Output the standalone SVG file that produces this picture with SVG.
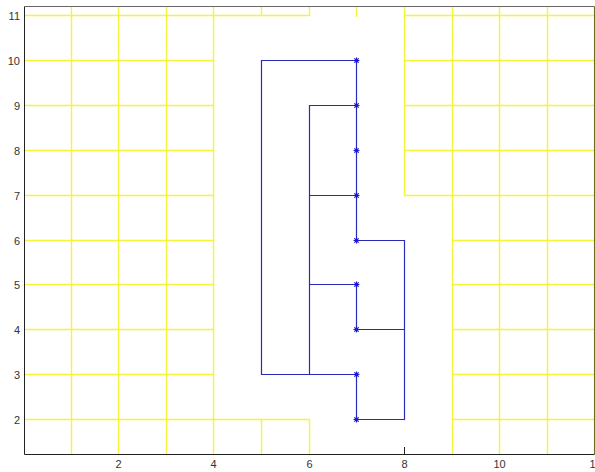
<svg xmlns="http://www.w3.org/2000/svg" xmlns:xlink="http://www.w3.org/1999/xlink" width="595" height="472" viewBox="0 0 595 472">
<style>
.grid{stroke:#f4f43a;stroke-width:1.4;fill:none}
.axis{stroke:#222;stroke-width:1;fill:none}
.tick{stroke:#222;stroke-width:1}
.lab{font-family:"Liberation Sans",Arial,sans-serif;font-size:11px;fill:#333}
.ylab{text-anchor:end}
.xlab{text-anchor:middle}
.den{stroke:#2a2ab8;stroke-width:1.2;fill:none}
</style>
<defs>
<path id="star" d="M-3,0H3M0,-3V3M-2.2,-2.2L2.2,2.2M-2.2,2.2L2.2,-2.2" stroke="#1a1ad0" stroke-width="1.2" fill="none"/>
</defs>
<rect width="595" height="472" fill="#fff"/>
<g id="ticks">
<path class="tick" d="M118.5,454.5V447M213.5,454.5V447M309.5,454.5V447M404.5,454.5V447M499.5,454.5V447"/>
</g>
<g id="grid" class="grid">
<path d="M71.5,6.5V454.5M118.5,6.5V454.5M166.5,6.5V454.5M213.5,6.5V454.5"/>
<path d="M24.5,15.5H213.5M24.5,60.5H213.5M24.5,105.5H213.5M24.5,150.5H213.5M24.5,195.5H213.5M24.5,240.5H213.5M24.5,284.5H213.5M24.5,329.5H213.5M24.5,374.5H213.5M24.5,419.5H213.5"/>
<path d="M213.5,15.5H309.5V6.5M261.5,6.5V15.5M356.5,6.5V17"/>
<path d="M213.5,419.5H309.5V454.5M261.5,419.5V454.5"/>
<path d="M404.5,6.5V195.5H594.5M452.5,6.5V454.5M499.5,6.5V454.5M547.5,6.5V454.5M594.5,6.5V454.5"/>
<path d="M404.5,15.5H594.5M404.5,60.5H594.5M404.5,105.5H594.5M404.5,150.5H594.5"/>
<path d="M452.5,240.5H594.5M452.5,284.5H594.5M452.5,329.5H594.5M452.5,374.5H594.5M452.5,419.5H594.5"/>
</g>
<g id="axes">
<path class="axis" d="M24.5,6.5V454.5H594.5" />
<path d="M24.5,6.5H594.5" stroke="#666" stroke-width="1.2" fill="none"/>
<path d="M594.5,6.5V454.5" stroke="#6b6b20" stroke-width="1" fill="none"/>
</g>
<g id="labels" class="lab">
<text class="ylab" x="20" y="19.5">11</text>
<text class="ylab" x="20" y="64.5">10</text>
<text class="ylab" x="20" y="109.5">9</text>
<text class="ylab" x="20" y="154.5">8</text>
<text class="ylab" x="20" y="199.5">7</text>
<text class="ylab" x="20" y="244.5">6</text>
<text class="ylab" x="20" y="288.5">5</text>
<text class="ylab" x="20" y="333.5">4</text>
<text class="ylab" x="20" y="378.5">3</text>
<text class="ylab" x="20" y="423.5">2</text>
<text class="xlab" x="118.5" y="467.5">2</text>
<text class="xlab" x="213.5" y="467.5">4</text>
<text class="xlab" x="309.5" y="467.5">6</text>
<text class="xlab" x="404.5" y="467.5">8</text>
<text class="xlab" x="499.5" y="467.5">10</text>
<text class="xlab" x="595.5" y="467.5">12</text>
</g>
<g id="connectors" class="den">
<path d="M356.5,60.5H261.5V374.5H356.5"/>
<path d="M356.5,105.5H309.5V374.5"/>
<path d="M309.5,195.5H356.5"/>
<path d="M309.5,284.5H356.5"/>
<path d="M356.5,60.5V240.5H404.5V419.5H356.5V374.5"/>
<path d="M356.5,284.5V329.5H404.5"/>
</g>
<g id="node-10"><use xlink:href="#star" x="356.5" y="60.5"/></g>
<g id="node-9"><use xlink:href="#star" x="356.5" y="105.5"/></g>
<g id="node-8"><use xlink:href="#star" x="356.5" y="150.5"/></g>
<g id="node-7"><use xlink:href="#star" x="356.5" y="195.5"/></g>
<g id="node-6"><use xlink:href="#star" x="356.5" y="240.5"/></g>
<g id="node-5"><use xlink:href="#star" x="356.5" y="284.5"/></g>
<g id="node-4"><use xlink:href="#star" x="356.5" y="329.5"/></g>
<g id="node-3"><use xlink:href="#star" x="356.5" y="374.5"/></g>
<g id="node-2"><use xlink:href="#star" x="356.5" y="419.5"/></g>
</svg>
